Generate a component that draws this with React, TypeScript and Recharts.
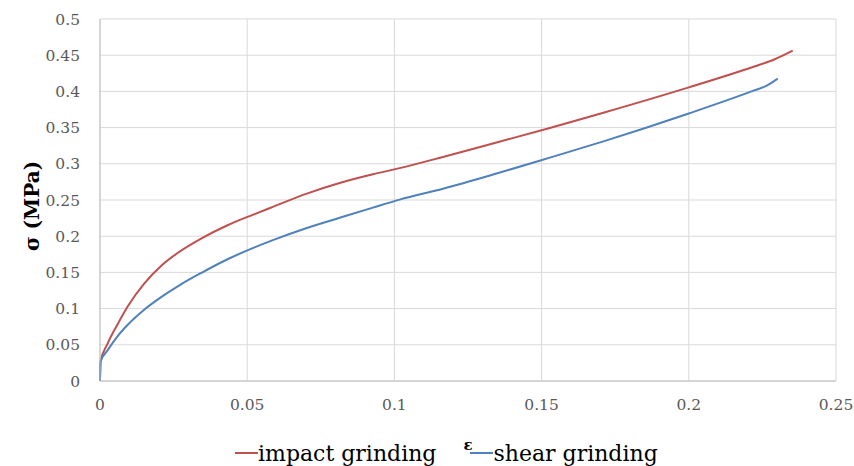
import { CartesianGrid, Legend, Line, LineChart, XAxis, YAxis } from "recharts";

const RED = "#c0504d";
const BLUE = "#4f81bd";
const GRID = "#d9d9d9";
const AXIS = "#bfbfbf";
const TICK = "#595959";
const FONT = "'DejaVu Serif', serif";

// strain / stress readings, impact grinding
const IMPACT_EPS = [0, 0.0002, 0.0025, 0.006, 0.0095, 0.015, 0.021, 0.0265, 0.0345, 0.0435, 0.0525, 0.0587, 0.07, 0.0814, 0.0927, 0.1018, 0.1165, 0.1347, 0.1528, 0.171, 0.2, 0.222, 0.229, 0.2353];
const IMPACT_SIGMA = [0, 0.027, 0.051, 0.0785, 0.1035, 0.1345, 0.16, 0.1772, 0.197, 0.2155, 0.2305, 0.2405, 0.2585, 0.2735, 0.2855, 0.294, 0.3095, 0.3295, 0.3495, 0.3705, 0.4055, 0.434, 0.444, 0.4562];

// strain / stress readings, shear grinding
const SHEAR_EPS = [0, 0.0002, 0.0025, 0.006, 0.0095, 0.015, 0.021, 0.0275, 0.0345, 0.0435, 0.0525, 0.0587, 0.07, 0.0814, 0.0927, 0.1018, 0.1165, 0.1347, 0.1528, 0.171, 0.2, 0.222, 0.2265, 0.2302];
const SHEAR_SIGMA = [0, 0.027, 0.042, 0.062, 0.078, 0.0985, 0.1165, 0.1335, 0.1495, 0.1685, 0.1845, 0.1945, 0.211, 0.2255, 0.2395, 0.2505, 0.2655, 0.2865, 0.3085, 0.331, 0.3695, 0.401, 0.408, 0.4176];

const X_TICKS = [0, 0.05, 0.1, 0.15, 0.2, 0.25];
const Y_TICKS = [0, 0.05, 0.1, 0.15, 0.2, 0.25, 0.3, 0.35, 0.4, 0.45, 0.5];

const SERIES = [
  { name: "impact grinding", color: RED },
  { name: "shear grinding", color: BLUE },
];

const impact = IMPACT_EPS.map((e, i) => ({ eps: e, sigma: IMPACT_SIGMA[i] }));
const shear = SHEAR_EPS.map((e, i) => ({ eps: e, sigma: SHEAR_SIGMA[i] }));

function LegendRow() {
  return (
    <div style={{ display: "flex", paddingLeft: 235, gap: 34, height: 24, alignItems: "center", fontFamily: FONT, fontSize: 22, color: "#000" }}>
      {SERIES.map((s) => (
        <div key={s.name} style={{ display: "flex", alignItems: "center" }}>
          <span style={{ display: "inline-block", width: 23, height: 2, background: s.color }} />
          <span>{s.name}</span>
        </div>
      ))}
    </div>
  );
}

function YTitle({ viewBox }: any) {
  const x = viewBox.x + 20;
  const y = viewBox.y + viewBox.height / 2 + 6;
  return (
    <text
      x={x}
      y={y}
      transform={`rotate(-90, ${x}, ${y})`}
      textAnchor="middle"
      dominantBaseline="central"
      style={{ fontFamily: FONT, fontWeight: "bold", fontSize: 20, fill: "#000" }}
    >
      σ (MPa)
    </text>
  );
}

export default function App() {
  return (
    <div style={{ position: "absolute", left: 0, top: 0, background: "#fff" }}>
      <LineChart width={854} height={466} margin={{ top: 19, right: 18, left: 12, bottom: 55 }}>
        <CartesianGrid stroke={GRID} strokeWidth={1} />
        <XAxis
          type="number"
          dataKey="eps"
          domain={[0, 0.25]}
          ticks={X_TICKS}
          tickFormatter={(v) => String(v)}
          tick={{ fill: TICK, fontSize: 15.5, fontFamily: FONT }}
          tickSize={0}
          tickMargin={18}
          axisLine={{ stroke: AXIS }}
          height={30}
          label={{ value: "ε", position: "bottom", offset: 28, style: { fontFamily: FONT, fontWeight: "bold", fontSize: 15, fill: "#000" } }}
        />
        <YAxis
          type="number"
          dataKey="sigma"
          domain={[0, 0.5]}
          ticks={Y_TICKS}
          tickFormatter={(v) => String(v)}
          tick={{ fill: TICK, fontSize: 15.5, fontFamily: FONT }}
          tickSize={0}
          tickMargin={20}
          axisLine={{ stroke: AXIS }}
          width={88}
          label={{ content: (p: any) => <YTitle viewBox={p.viewBox} /> }}
        />
        <Legend
          verticalAlign="middle"
          align="center"
          layout="horizontal"
          wrapperStyle={{ left: 0, top: 441, width: 854 }}
          content={() => <LegendRow />}
        />
        <Line data={impact} dataKey="sigma" name="impact grinding" type="monotone" stroke={RED} strokeWidth={2} dot={false} isAnimationActive={false} />
        <Line data={shear} dataKey="sigma" name="shear grinding" type="monotone" stroke={BLUE} strokeWidth={2} dot={false} isAnimationActive={false} />
      </LineChart>
    </div>
  );
}
